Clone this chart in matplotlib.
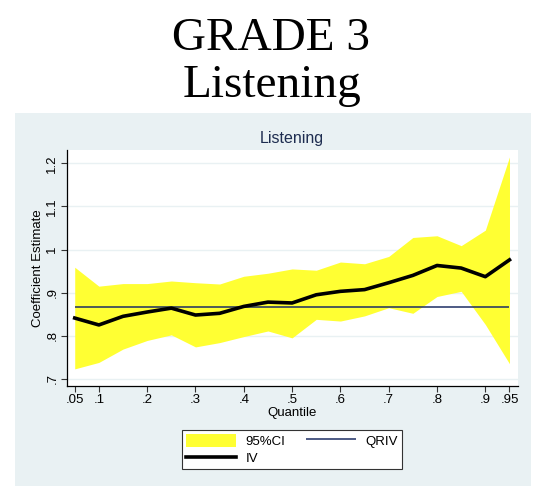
import matplotlib.pyplot as plt
from matplotlib.patches import Rectangle

plt.rcParams['font.family'] = ['Liberation Sans', 'DejaVu Sans']

# quantiles and estimates
quantiles = [.05, .10, .15, .20, .25, .30, .35, .40, .45, .50,
             .55, .60, .65, .70, .75, .80, .85, .90, .95]
iv = [0.841, 0.825, 0.845, 0.855, 0.864, 0.848, 0.852, 0.868, 0.878, 0.876,
      0.895, 0.903, 0.907, 0.923, 0.940, 0.963, 0.957, 0.937, 0.976]
ci_upper = [0.959, 0.915, 0.921, 0.921, 0.927, 0.923, 0.920, 0.938, 0.945, 0.955,
            0.952, 0.971, 0.967, 0.984, 1.028, 1.032, 1.009, 1.045, 1.215]
ci_lower = [0.723, 0.738, 0.769, 0.789, 0.802, 0.774, 0.784, 0.798, 0.811, 0.795,
            0.838, 0.834, 0.846, 0.865, 0.852, 0.891, 0.903, 0.826, 0.735]
qriv = 0.867

xticks = [.05, .1, .2, .3, .4, .5, .6, .7, .8, .9, .95]
xticklabels = ['.05', '.1', '.2', '.3', '.4', '.5', '.6', '.7', '.8', '.9', '.95']
yticks = [.7, .8, .9, 1.0, 1.1, 1.2]
yticklabels = ['.7', '.8', '.9', '1', '1.1', '1.2']

W, H = 543, 486
fig = plt.figure(figsize=(W / 100, H / 100), dpi=100)
fig.patch.set_facecolor('white')

# stata-like graph region, drawn in a background axes
panel_col = '#E9F1F3'
bg = fig.add_axes([0, 0, 1, 1], zorder=-10)
bg.axis('off')
bg.set_xlim(0, 1)
bg.set_ylim(0, 1)
bg.add_patch(Rectangle((15 / W, 0), (531 - 15) / W, (486 - 113) / H,
                       facecolor=panel_col, edgecolor='none'))

fig.text(0.5, 1 - 50 / H, 'GRADE 3', ha='center', va='baseline',
         family='Liberation Serif', fontsize=34)
fig.text(0.5, 1 - 97 / H, 'Listening', ha='center', va='baseline',
         family='Liberation Serif', fontsize=34)

ax = fig.add_axes([66.7 / W, (486 - 385.7) / H, (517.7 - 66.7) / W, (385.7 - 150) / H])
ax.set_facecolor('white')

ax.fill_between(quantiles, ci_lower, ci_upper, color='#FFFF33', lw=0, label='95%CI', zorder=2)
ax.plot(quantiles, iv, color='black', lw=2.6, label='IV', zorder=4)
ax.hlines(qriv, quantiles[0], quantiles[-1], color='#1C2E63', lw=1.1, label='QRIV', zorder=3)

for y in yticks:
    ax.axhline(y, color=panel_col, lw=1.0, zorder=1)

ax.set_xlim(0.0334, 0.967)
ax.set_ylim(0.684, 1.231)
ax.set_xticks(xticks)
ax.set_xticklabels(xticklabels, fontsize=9.5)
ax.set_yticks(yticks)
ax.set_yticklabels(yticklabels, fontsize=9.5, rotation=90, va='center')
ax.tick_params(length=4, width=0.8, color='#333333', pad=2)

for s in ['top', 'right']:
    ax.spines[s].set_visible(False)
for s in ['left', 'bottom']:
    ax.spines[s].set_linewidth(0.9)

ax.set_xlabel('Quantile', fontsize=9.5, labelpad=1)
ax.set_ylabel('Coefficient Estimate', fontsize=9.5, labelpad=2)
ax.set_title('Listening', fontsize=11.5, color='#1E2D50', pad=5)

handles, labels = ax.get_legend_handles_labels()
order = [labels.index('95%CI'), labels.index('IV'), labels.index('QRIV')]
leg = fig.legend([handles[i] for i in order], [labels[i] for i in order],
                 ncol=2, loc='center', bbox_to_anchor=(292 / W, 1 - 449.5 / H),
                 fontsize=9.5, frameon=True, fancybox=False, edgecolor='#333333',
                 framealpha=1, handlelength=3.8, handleheight=1.2, columnspacing=1.6,
                 labelspacing=0.25, borderpad=0.3, handletextpad=0.7)
leg.get_frame().set_linewidth(0.8)

fig.savefig('out.png', dpi=100, facecolor='white')
